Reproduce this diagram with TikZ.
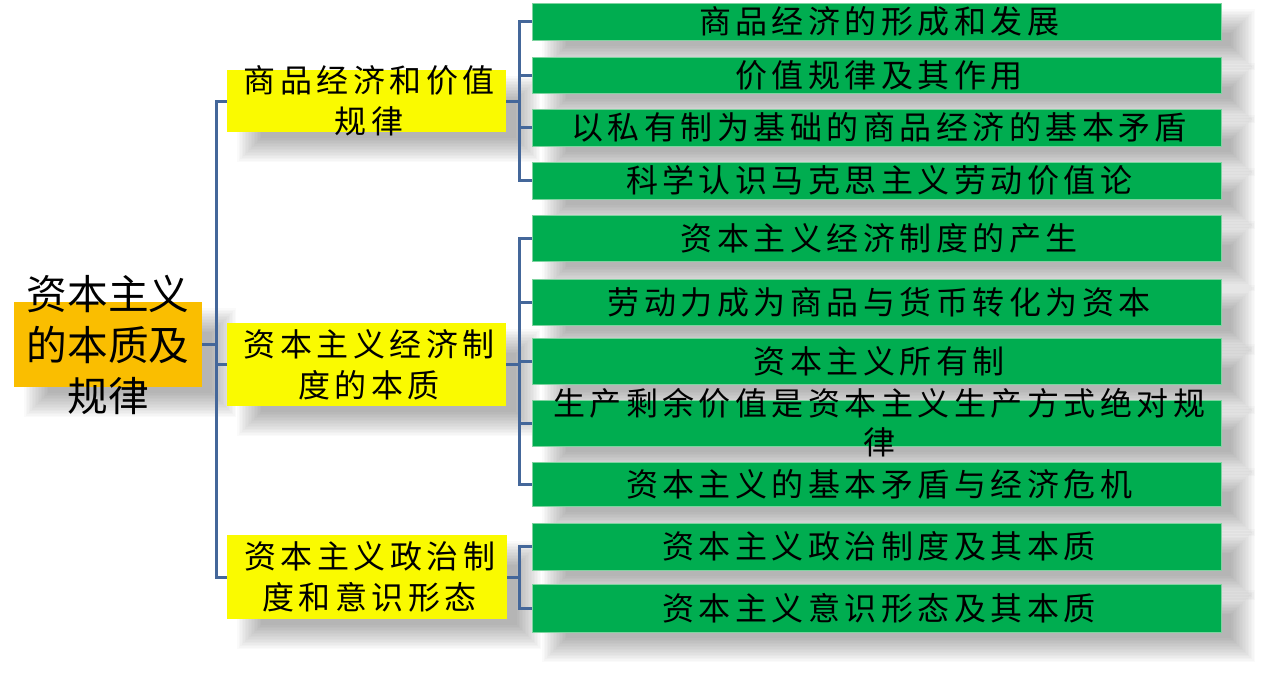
\documentclass[tikz,border=0pt]{standalone}
\usepackage{fontspec}
\newfontfamily\cjk{Noto Sans CJK SC}
\newfontfamily\cjksp[LetterSpace=14]{Noto Sans CJK SC}
\usetikzlibrary{fit}
\pgfdeclarelayer{background}
\pgfsetlayers{background,main}
\definecolor{gbox}{HTML}{00AD50}
\definecolor{gedge}{HTML}{7ED4A0}
\definecolor{ybox}{HTML}{FAFA00}
\definecolor{obox}{HTML}{FABE00}
\definecolor{connc}{HTML}{44679A}
\tikzset{
  x=0.75pt, y=-0.75pt,
  boxbase/.style={inner sep=0pt, outer sep=0pt},
  greenbox/.style={boxbase, fill=gbox, draw=gedge, line width=0.75pt},
  yellowbox/.style={boxbase, fill=ybox},
  rootbox/.style={boxbase, fill=obox},
  gtext/.style={inner sep=0pt, align=center, xshift=2pt, font=\cjksp\fontsize{24}{29.25}\selectfont},
  ytext/.style={inner sep=0pt, align=center, xshift=2pt, font=\cjksp\fontsize{24}{30.75}\selectfont},
  roottext/.style={inner sep=0pt, align=center, font=\cjk\fontsize{30.5}{38.25}\selectfont},
  connline/.style={draw=connc, line width=2.25pt},
}
\begin{document}
\begin{tikzpicture}
\useasboundingbox (0,0) rectangle (1276,686);
% root
\node[rootbox, fit={(14,302) (202,387)}] (root) {};
\node[roottext] at (root) {资本主义\\的本质及\\规律};
% yellow
\node[yellowbox, fit={(227,70) (506,132)}] (y1) {};
\node[ytext] at (y1) {商品经济和价值\\规律};
\node[yellowbox, fit={(227,323) (506,406)}] (y2) {};
\node[ytext] at (y2) {资本主义经济制\\度的本质};
\node[yellowbox, fit={(227,535) (507,619)}] (y3) {};
\node[ytext] at (y3) {资本主义政治制\\度和意识形态};
% green
\node[greenbox, fit={(532,3) (1221,40)}] (g1) {};
\node[gtext] at (g1) {商品经济的形成和发展};
\node[greenbox, fit={(532,57) (1221,93)}] (g2) {};
\node[gtext] at (g2) {价值规律及其作用};
\node[greenbox, fit={(532,109) (1221,146)}] (g3) {};
\node[gtext] at (g3) {以私有制为基础的商品经济的基本矛盾};
\node[greenbox, fit={(532,162) (1221,199)}] (g4) {};
\node[gtext] at (g4) {科学认识马克思主义劳动价值论};
\node[greenbox, fit={(532,215) (1221,261)}] (g5) {};
\node[gtext] at (g5) {资本主义经济制度的产生};
\node[greenbox, fit={(532,279) (1221,325)}] (g6) {};
\node[gtext] at (g6) {劳动力成为商品与货币转化为资本};
\node[greenbox, fit={(532,338) (1221,384)}] (g7) {};
\node[gtext] at (g7) {资本主义所有制};
\node[greenbox, fit={(532,400) (1221,446)}] (g8) {};
\node[gtext] at (g8) {生产剩余价值是资本主义生产方式绝对规\\律};
\node[greenbox, fit={(532,462) (1221,506)}] (g9) {};
\node[gtext] at (g9) {资本主义的基本矛盾与经济危机};
\node[greenbox, fit={(532,523) (1221,570)}] (g10) {};
\node[gtext] at (g10) {资本主义政治制度及其本质};
\node[greenbox, fit={(532,584) (1221,632)}] (g11) {};
\node[gtext] at (g11) {资本主义意识形态及其本质};
% shadows
\begin{pgfonlayer}{background}
\foreach \n in {root,y1,y2,y3,g1,g2,g3,g4,g5,g6,g7,g8,g9,g10,g11}{
  \foreach \r in {-12,-10.5,...,12}{
    \fill[black, opacity=0.02] ([shift={(22-\r,18-\r)}]\n.north west) rectangle ([shift={(22+\r,18+\r)}]\n.south east);
  }
}
\end{pgfonlayer}
% connectors
\coordinate (lb) at (216,344.5);
\coordinate (v1) at (519,0);
\draw[connline] (root.east) -- (lb);
\draw[connline] (y1.west) -- (y1.west -| lb) -- (y3.west -| lb) -- (y3.west);
\draw[connline] (y2.west) -- (y2.west -| lb);
% group 1
\draw[connline] (g1.west) -- (g1.west -| v1) -- (g4.west -| v1) -- (g4.west);
\draw[connline] (y1.east) -- (y1.east -| v1);
\draw[connline] (g2.west) -- (g2.west -| v1);
\draw[connline] (g3.west) -- (g3.west -| v1);
% group 2
\draw[connline] (g5.west) -- (g5.west -| v1) -- (g9.west -| v1) -- (g9.west);
\draw[connline] (y2.east) -- (y2.east -| v1);
\draw[connline] (g6.west) -- (g6.west -| v1);
\draw[connline] (g7.west) -- (g7.west -| v1);
\draw[connline] (g8.west) -- (g8.west -| v1);
% group 3
\draw[connline] (g10.west) -- (g10.west -| v1) -- (g11.west -| v1) -- (g11.west);
\draw[connline] (y3.east) -- (y3.east -| v1);
\end{tikzpicture}
\end{document}
